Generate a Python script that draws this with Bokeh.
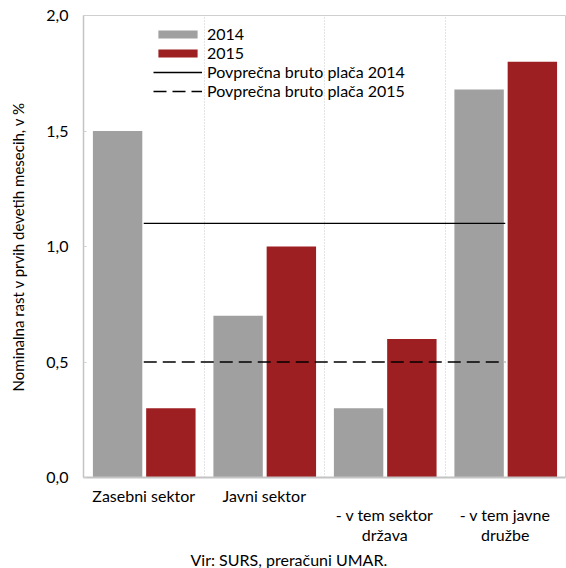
from bokeh.plotting import figure
from bokeh.models import (ColumnDataSource, FixedTicker, Grid, Legend, LegendItem,
                          CustomJSTickFormatter, Title, Range1d)
from bokeh.embed import file_html
from bokeh.resources import INLINE

categories = ["Zasebni sektor", "Javni sektor", " \n- v tem sektor\ndržava", " \n- v tem javne\ndružbe"]
values_2014 = [1.5, 0.7, 0.3, 1.68]
values_2015 = [0.3, 1.0, 0.6, 1.8]
avg_2014 = 1.1
avg_2015 = 0.5
y_ticks = [0.0, 0.5, 1.0, 1.5, 2.0]
source_note = "Vir: SURS, preračuni UMAR."
y_title = "Nominalna rast v prvih devetih mesecih, v %"

FONT = "Lato"
GRAY = "#a0a0a0"
RED = "#9e1f22"

idx = list(range(len(categories)))
src = ColumnDataSource(dict(
    x14=[i - 0.217 for i in idx],
    x15=[i + 0.225 for i in idx],
    v14=values_2014,
    v15=values_2015,
))

p = figure(width=566, height=568, output_backend="svg", toolbar_location=None,
           x_range=Range1d(-0.5, len(categories) - 0.5), y_range=Range1d(0, 2.0),
           min_border_left=83, min_border_right=1, min_border_top=15, min_border_bottom=90)

r14 = p.vbar(x="x14", top="v14", width=0.41, source=src, fill_color=GRAY, line_color=None)
r15 = p.vbar(x="x15", top="v15", width=0.41, source=src, fill_color=RED, line_color=None)

line_x = [idx[0], idx[-1]]
l14 = p.line(x=line_x, y=[avg_2014, avg_2014], line_color="black", line_width=1.3)
l15 = p.line(x=line_x, y=[avg_2015, avg_2015], line_color="black", line_width=1.3, line_dash="13 6")

# grids
p.xgrid.visible = False
p.ygrid.visible = False
p.add_layout(Grid(dimension=0, ticker=FixedTicker(ticks=[i + 0.5 for i in idx[:-1]]),
                  grid_line_color="#c8c8c8", grid_line_dash="1 2", grid_line_width=1))

p.outline_line_color = "#cfcfcf"
p.outline_line_width = 1

# x axis
xa = p.xaxis[0]
xa.ticker = FixedTicker(ticks=idx)
xa.major_label_overrides = {i: c for i, c in zip(idx, categories)}
xa.major_tick_line_color = None
xa.axis_line_color = "#c4c4c4"
xa.axis_line_width = 2
xa.major_label_standoff = 2
xa.major_label_text_font = FONT
xa.major_label_text_font_size = "16px"
xa.major_label_text_color = "black"
xa.major_label_text_line_height = 1.05

# y axis
ya = p.yaxis[0]
ya.ticker = FixedTicker(ticks=y_ticks)
ya.formatter = CustomJSTickFormatter(code="return tick.toFixed(1).replace('.', ',');")
ya.major_tick_in = 3
ya.major_tick_out = 0
ya.major_tick_line_color = "#d0d0d0"
ya.minor_tick_line_color = None
ya.axis_line_color = "#c4c4c4"
ya.axis_line_width = 1.5
ya.major_label_standoff = 15
ya.major_label_text_font = FONT
ya.major_label_text_font_size = "16px"
ya.major_label_text_color = "black"
ya.axis_label = y_title
ya.axis_label_text_font = FONT
ya.axis_label_text_font_size = "15px"
ya.axis_label_text_font_style = "normal"
ya.axis_label_text_color = "black"
ya.axis_label_standoff = 16

legend = Legend(items=[
    LegendItem(label="2014", renderers=[r14]),
    LegendItem(label="2015", renderers=[r15]),
    LegendItem(label="Povprečna bruto plača 2014", renderers=[l14]),
    LegendItem(label="Povprečna bruto plača 2015", renderers=[l15]),
], location=(70, 377))
legend.glyph_width = 49
legend.glyph_height = 10
legend.label_height = 18
legend.label_standoff = 5
legend.spacing = 0
legend.padding = 0
legend.margin = 0
legend.border_line_color = None
legend.background_fill_alpha = 0
legend.label_text_font = FONT
legend.label_text_font_size = "16px"
legend.label_text_color = "black"
p.add_layout(legend)

p.add_layout(Title(text=source_note, align="left", offset=107, standoff=0,
                   text_font=FONT, text_font_size="16px", text_font_style="normal",
                   text_color="black"), "below")

open("out.html", "w").write(file_html(p, INLINE))
